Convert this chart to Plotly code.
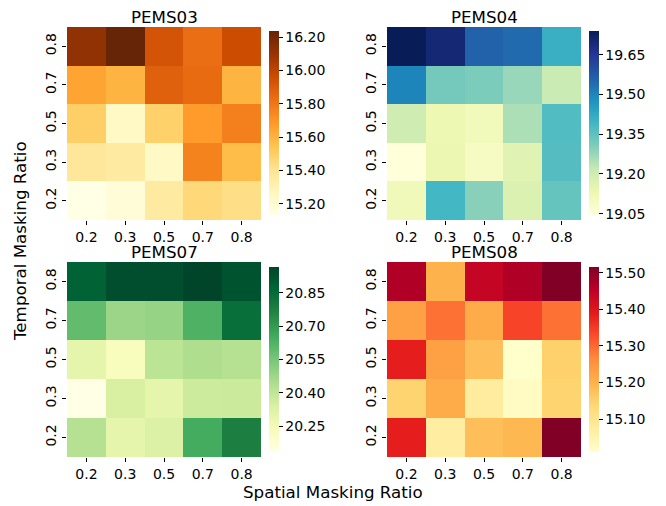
import plotly.graph_objects as go
from plotly.colors import sequential as seq

W, H = 666, 506

spatial = ['0.2', '0.3', '0.5', '0.7', '0.8']
temporal = ['0.8', '0.7', '0.5', '0.3', '0.2']  # top -> bottom

pems03 = [
    [16.12, 16.236, 15.93, 15.83, 15.96],
    [15.65, 15.60, 15.88, 15.84, 15.60],
    [15.50, 15.24, 15.49, 15.68, 15.77],
    [15.38, 15.36, 15.24, 15.76, 15.57],
    [15.134, 15.18, 15.36, 15.46, 15.43],
]
pems04 = [
    [19.74, 19.70, 19.56, 19.545, 19.41],
    [19.50, 19.32, 19.31, 19.275, 19.21],
    [19.20, 19.13, 19.11, 19.25, 19.37],
    [19.045, 19.135, 19.095, 19.16, 19.365],
    [19.115, 19.39, 19.295, 19.175, 19.34],
]
pems07 = [
    [20.88, 20.94, 20.94, 20.967, 20.925],
    [20.59, 20.48, 20.49, 20.63, 20.84],
    [20.30, 20.23, 20.41, 20.44, 20.425],
    [20.133, 20.34, 20.30, 20.37, 20.375],
    [20.425, 20.30, 20.33, 20.65, 20.78],
]
pems08 = [
    [15.465, 15.20, 15.44, 15.465, 15.516],
    [15.23, 15.29, 15.21, 15.34, 15.29],
    [15.385, 15.23, 15.18, 15.01, 15.15],
    [15.145, 15.21, 15.075, 15.025, 15.145],
    [15.385, 15.07, 15.18, 15.19, 15.516],
]

titles = ['PEMS03', 'PEMS04', 'PEMS07', 'PEMS08']
datasets = [pems03, pems04, pems07, pems08]
scales = [seq.YlOrBr, seq.YlGnBu, seq.YlGn, seq.YlOrRd]
cb_ticks = [
    [15.20, 15.40, 15.60, 15.80, 16.00, 16.20],
    [19.05, 19.20, 19.35, 19.50, 19.65],
    [20.25, 20.40, 20.55, 20.70, 20.85],
    [15.10, 15.20, 15.30, 15.40, 15.50],
]

FONT = 'DejaVu Sans'
TXT = 'black'
TICK = 14
LAB = 16.7


def fx(v):
    return v / W


def fy(v):
    return 1 - v / H


# pixel geometry in the 666x506 page
xdoms_px = [(67, 261), (387, 581)]
ydoms_px = [(27, 220), (262, 457)]
cb_x_px = [269, 589]
cb_y_px = [(31, 215), (267, 452)]

fig = go.Figure()
layout = dict(
    width=W, height=H, margin=dict(l=0, r=0, t=0, b=0),
    paper_bgcolor='white', plot_bgcolor='white',
    font=dict(family=FONT, size=TICK, color=TXT),
    annotations=[],
)

for i, (name, z, cs, ticks) in enumerate(zip(titles, datasets, scales, cb_ticks)):
    r, c = divmod(i, 2)
    xa = 'x' if i == 0 else f'x{i+1}'
    ya = 'y' if i == 0 else f'y{i+1}'
    x0, x1 = xdoms_px[c]
    y0, y1 = ydoms_px[r]
    cy0, cy1 = cb_y_px[r]
    zmin = min(min(row) for row in z)
    zmax = max(max(row) for row in z)
    fig.add_trace(go.Heatmap(
        z=z, x=spatial, y=temporal, xaxis=xa, yaxis=ya,
        colorscale=cs, zmin=zmin, zmax=zmax,
        xgap=0, ygap=0,
        colorbar=dict(
            x=fx(cb_x_px[c]), xanchor='left', xref='paper',
            y=(fy(cy0) + fy(cy1)) / 2, yanchor='middle', yref='paper',
            len=(cy1 - cy0) / H, lenmode='fraction',
            thickness=10, thicknessmode='pixels',
            outlinewidth=0,
            tickvals=ticks, ticktext=[f'{t:.2f}' for t in ticks],
            ticks='outside', ticklen=4, tickwidth=1, tickcolor=TXT,
            tickfont=dict(family=FONT, size=TICK, color=TXT),
            xpad=0, ypad=0,
        ),
    ))
    axk = 'xaxis' if i == 0 else f'xaxis{i+1}'
    ayk = 'yaxis' if i == 0 else f'yaxis{i+1}'
    layout[axk] = dict(
        domain=[fx(x0), fx(x1)], anchor=ya, type='category',
        ticks='outside', ticklen=4, tickwidth=1, tickcolor=TXT,
        showgrid=False, zeroline=False, showline=False,
        tickfont=dict(family=FONT, size=TICK, color=TXT),
    )
    layout[ayk] = dict(
        domain=[fy(y1), fy(y0)], anchor=xa, type='category',
        autorange='reversed',
        ticks='outside', ticklen=4, tickwidth=1, tickcolor=TXT,
        tickangle=-90,
        showgrid=False, zeroline=False, showline=False,
        tickfont=dict(family=FONT, size=TICK, color=TXT),
    )
    layout['annotations'].append(dict(
        text=name, x=(fx(x0) + fx(x1)) / 2, y=fy(y0 + 1),
        xref='paper', yref='paper', xanchor='center', yanchor='bottom',
        borderpad=0,
        showarrow=False, font=dict(family=FONT, size=LAB, color='black'),
    ))

layout['annotations'].append(dict(
    text='Spatial Masking Ratio', x=fx(333), y=fy(492),
    xref='paper', yref='paper', xanchor='center', yanchor='middle',
    showarrow=False, font=dict(family=FONT, size=LAB, color='black'),
))
layout['annotations'].append(dict(
    text='Temporal Masking Ratio', x=fx(20), y=fy(241),
    xref='paper', yref='paper', xanchor='center', yanchor='middle',
    textangle=-90,
    showarrow=False, font=dict(family=FONT, size=LAB, color='black'),
))

fig.update_layout(**layout)
fig.write_html(
    'out.html',
    config={'displayModeBar': False},
    post_script="document.body.style.margin='0';document.body.style.overflow='hidden';",
)
